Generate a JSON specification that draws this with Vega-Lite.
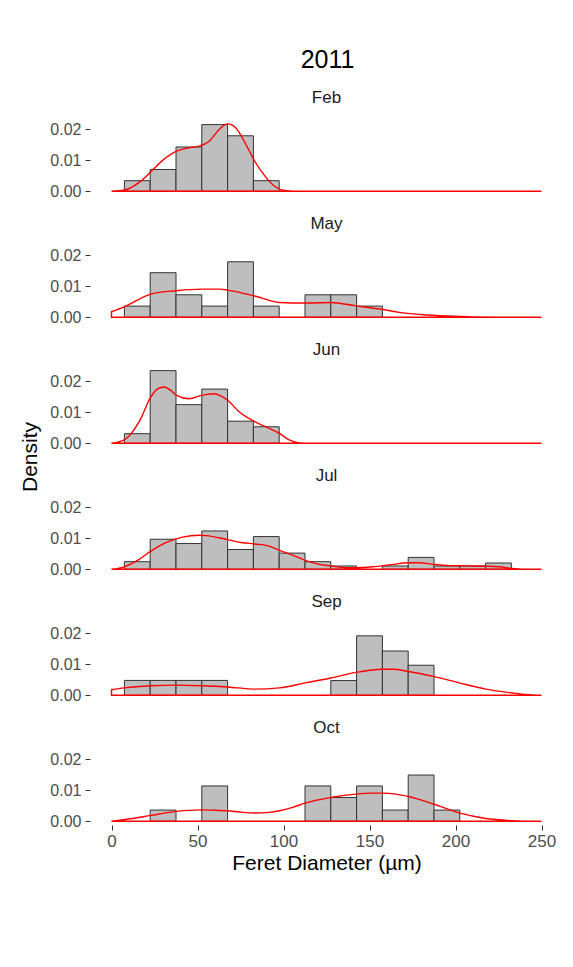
{
  "$schema": "https://vega.github.io/schema/vega-lite/v6.json",
  "padding": {"left": 19, "top": 48, "right": 5, "bottom": 5},
  "background": "white",
  "title": {"text": "2011", "fontSize": 25, "fontWeight": "normal", "anchor": "middle", "offset": 16, "dx": 36, "color": "#000000"},
  "data": {"values": [
    {"kind": "bar", "month": "Feb", "start": 7.5, "end": 22.5, "density": 0.00343},
    {"kind": "bar", "month": "Feb", "start": 22.5, "end": 37.5, "density": 0.00705},
    {"kind": "bar", "month": "Feb", "start": 37.5, "end": 52.5, "density": 0.01433},
    {"kind": "bar", "month": "Feb", "start": 52.5, "end": 67.5, "density": 0.02157},
    {"kind": "bar", "month": "Feb", "start": 67.5, "end": 82.5, "density": 0.01795},
    {"kind": "bar", "month": "Feb", "start": 82.5, "end": 97.5, "density": 0.00343},
    {"kind": "bar", "month": "May", "start": 7.5, "end": 22.5, "density": 0.00362},
    {"kind": "bar", "month": "May", "start": 22.5, "end": 37.5, "density": 0.01442},
    {"kind": "bar", "month": "May", "start": 37.5, "end": 52.5, "density": 0.00728},
    {"kind": "bar", "month": "May", "start": 52.5, "end": 67.5, "density": 0.00362},
    {"kind": "bar", "month": "May", "start": 67.5, "end": 82.5, "density": 0.01795},
    {"kind": "bar", "month": "May", "start": 82.5, "end": 97.5, "density": 0.00362},
    {"kind": "bar", "month": "May", "start": 112.5, "end": 127.5, "density": 0.00728},
    {"kind": "bar", "month": "May", "start": 127.5, "end": 142.5, "density": 0.00728},
    {"kind": "bar", "month": "May", "start": 142.5, "end": 157.5, "density": 0.00362},
    {"kind": "bar", "month": "Jun", "start": 7.5, "end": 22.5, "density": 0.00311},
    {"kind": "bar", "month": "Jun", "start": 22.5, "end": 37.5, "density": 0.0235},
    {"kind": "bar", "month": "Jun", "start": 37.5, "end": 52.5, "density": 0.0125},
    {"kind": "bar", "month": "Jun", "start": 52.5, "end": 67.5, "density": 0.01753},
    {"kind": "bar", "month": "Jun", "start": 67.5, "end": 82.5, "density": 0.00715},
    {"kind": "bar", "month": "Jun", "start": 82.5, "end": 97.5, "density": 0.00535},
    {"kind": "bar", "month": "Jul", "start": 7.5, "end": 22.5, "density": 0.00246},
    {"kind": "bar", "month": "Jul", "start": 22.5, "end": 37.5, "density": 0.00972},
    {"kind": "bar", "month": "Jul", "start": 37.5, "end": 52.5, "density": 0.00833},
    {"kind": "bar", "month": "Jul", "start": 52.5, "end": 67.5, "density": 0.0124},
    {"kind": "bar", "month": "Jul", "start": 67.5, "end": 82.5, "density": 0.00641},
    {"kind": "bar", "month": "Jul", "start": 82.5, "end": 97.5, "density": 0.01058},
    {"kind": "bar", "month": "Jul", "start": 97.5, "end": 112.5, "density": 0.00523},
    {"kind": "bar", "month": "Jul", "start": 112.5, "end": 127.5, "density": 0.00246},
    {"kind": "bar", "month": "Jul", "start": 127.5, "end": 142.5, "density": 0.00107},
    {"kind": "bar", "month": "Jul", "start": 157.5, "end": 172.5, "density": 0.00107},
    {"kind": "bar", "month": "Jul", "start": 172.5, "end": 187.5, "density": 0.00385},
    {"kind": "bar", "month": "Jul", "start": 187.5, "end": 202.5, "density": 0.00107},
    {"kind": "bar", "month": "Jul", "start": 202.5, "end": 217.5, "density": 0.00107},
    {"kind": "bar", "month": "Jul", "start": 217.5, "end": 232.5, "density": 0.00203},
    {"kind": "bar", "month": "Sep", "start": 7.5, "end": 22.5, "density": 0.00481},
    {"kind": "bar", "month": "Sep", "start": 22.5, "end": 37.5, "density": 0.00481},
    {"kind": "bar", "month": "Sep", "start": 37.5, "end": 52.5, "density": 0.00481},
    {"kind": "bar", "month": "Sep", "start": 52.5, "end": 67.5, "density": 0.00481},
    {"kind": "bar", "month": "Sep", "start": 127.5, "end": 142.5, "density": 0.00476},
    {"kind": "bar", "month": "Sep", "start": 142.5, "end": 157.5, "density": 0.01923},
    {"kind": "bar", "month": "Sep", "start": 157.5, "end": 172.5, "density": 0.01432},
    {"kind": "bar", "month": "Sep", "start": 172.5, "end": 187.5, "density": 0.00972},
    {"kind": "bar", "month": "Oct", "start": 22.5, "end": 37.5, "density": 0.00363},
    {"kind": "bar", "month": "Oct", "start": 52.5, "end": 67.5, "density": 0.01143},
    {"kind": "bar", "month": "Oct", "start": 112.5, "end": 127.5, "density": 0.01143},
    {"kind": "bar", "month": "Oct", "start": 127.5, "end": 142.5, "density": 0.00769},
    {"kind": "bar", "month": "Oct", "start": 142.5, "end": 157.5, "density": 0.01143},
    {"kind": "bar", "month": "Oct", "start": 157.5, "end": 172.5, "density": 0.00363},
    {"kind": "bar", "month": "Oct", "start": 172.5, "end": 187.5, "density": 0.01496},
    {"kind": "bar", "month": "Oct", "start": 187.5, "end": 202.5, "density": 0.00363},

    {"kind": "kde", "month": "Feb", "x": 0, "density": 0},
    {"kind": "kde", "month": "Feb", "x": 7.4, "density": 0.0004},
    {"kind": "kde", "month": "Feb", "x": 16.1, "density": 0.0029},
    {"kind": "kde", "month": "Feb", "x": 22.9, "density": 0.0063},
    {"kind": "kde", "month": "Feb", "x": 29.7, "density": 0.0100},
    {"kind": "kde", "month": "Feb", "x": 37.8, "density": 0.0130},
    {"kind": "kde", "month": "Feb", "x": 45.2, "density": 0.0141},
    {"kind": "kde", "month": "Feb", "x": 51, "density": 0.0146},
    {"kind": "kde", "month": "Feb", "x": 56.8, "density": 0.0162},
    {"kind": "kde", "month": "Feb", "x": 62.6, "density": 0.0200},
    {"kind": "kde", "month": "Feb", "x": 67.5, "density": 0.0218},
    {"kind": "kde", "month": "Feb", "x": 72.3, "density": 0.0205},
    {"kind": "kde", "month": "Feb", "x": 78.1, "density": 0.0152},
    {"kind": "kde", "month": "Feb", "x": 83.2, "density": 0.0098},
    {"kind": "kde", "month": "Feb", "x": 89.8, "density": 0.0045},
    {"kind": "kde", "month": "Feb", "x": 95.6, "density": 0.0013},
    {"kind": "kde", "month": "Feb", "x": 101.4, "density": 0.0002},
    {"kind": "kde", "month": "Feb", "x": 110, "density": 0},
    {"kind": "kde", "month": "Feb", "x": 250, "density": 0},

    {"kind": "kde", "month": "May", "x": 0, "density": 0.0018},
    {"kind": "kde", "month": "May", "x": 7.4, "density": 0.0034},
    {"kind": "kde", "month": "May", "x": 22.9, "density": 0.0075},
    {"kind": "kde", "month": "May", "x": 37.8, "density": 0.0086},
    {"kind": "kde", "month": "May", "x": 52.5, "density": 0.0091},
    {"kind": "kde", "month": "May", "x": 62.6, "density": 0.0091},
    {"kind": "kde", "month": "May", "x": 67.5, "density": 0.0088},
    {"kind": "kde", "month": "May", "x": 83.2, "density": 0.0069},
    {"kind": "kde", "month": "May", "x": 97.7, "density": 0.0048},
    {"kind": "kde", "month": "May", "x": 112.6, "density": 0.0046},
    {"kind": "kde", "month": "May", "x": 127.5, "density": 0.0048},
    {"kind": "kde", "month": "May", "x": 142.1, "density": 0.0037},
    {"kind": "kde", "month": "May", "x": 157.8, "density": 0.0025},
    {"kind": "kde", "month": "May", "x": 167.3, "density": 0.0016},
    {"kind": "kde", "month": "May", "x": 180, "density": 0.0009},
    {"kind": "kde", "month": "May", "x": 195, "density": 0.0004},
    {"kind": "kde", "month": "May", "x": 210, "density": 0.0001},
    {"kind": "kde", "month": "May", "x": 230, "density": 0},
    {"kind": "kde", "month": "May", "x": 250, "density": 0},

    {"kind": "kde", "month": "Jun", "x": 0, "density": 0},
    {"kind": "kde", "month": "Jun", "x": 7.4, "density": 0.0011},
    {"kind": "kde", "month": "Jun", "x": 16.1, "density": 0.0070},
    {"kind": "kde", "month": "Jun", "x": 22.9, "density": 0.0150},
    {"kind": "kde", "month": "Jun", "x": 26.8, "density": 0.0176},
    {"kind": "kde", "month": "Jun", "x": 30.6, "density": 0.0182},
    {"kind": "kde", "month": "Jun", "x": 34.5, "density": 0.0171},
    {"kind": "kde", "month": "Jun", "x": 37.8, "density": 0.0155},
    {"kind": "kde", "month": "Jun", "x": 45.2, "density": 0.0144},
    {"kind": "kde", "month": "Jun", "x": 52.5, "density": 0.0155},
    {"kind": "kde", "month": "Jun", "x": 59.7, "density": 0.0160},
    {"kind": "kde", "month": "Jun", "x": 64.5, "density": 0.0150},
    {"kind": "kde", "month": "Jun", "x": 67.5, "density": 0.0139},
    {"kind": "kde", "month": "Jun", "x": 74.2, "density": 0.0102},
    {"kind": "kde", "month": "Jun", "x": 83.2, "density": 0.0070},
    {"kind": "kde", "month": "Jun", "x": 89.8, "density": 0.0053},
    {"kind": "kde", "month": "Jun", "x": 97.7, "density": 0.0032},
    {"kind": "kde", "month": "Jun", "x": 103.3, "density": 0.0011},
    {"kind": "kde", "month": "Jun", "x": 109.1, "density": 0.0001},
    {"kind": "kde", "month": "Jun", "x": 115, "density": 0},
    {"kind": "kde", "month": "Jun", "x": 250, "density": 0},

    {"kind": "kde", "month": "Jul", "x": 0, "density": 0},
    {"kind": "kde", "month": "Jul", "x": 7.4, "density": 0.0008},
    {"kind": "kde", "month": "Jul", "x": 16.1, "density": 0.0032},
    {"kind": "kde", "month": "Jul", "x": 22.9, "density": 0.0059},
    {"kind": "kde", "month": "Jul", "x": 31.6, "density": 0.0086},
    {"kind": "kde", "month": "Jul", "x": 41.3, "density": 0.0104},
    {"kind": "kde", "month": "Jul", "x": 51, "density": 0.0110},
    {"kind": "kde", "month": "Jul", "x": 54.9, "density": 0.0109},
    {"kind": "kde", "month": "Jul", "x": 67.5, "density": 0.0096},
    {"kind": "kde", "month": "Jul", "x": 76.2, "density": 0.0086},
    {"kind": "kde", "month": "Jul", "x": 83.2, "density": 0.0082},
    {"kind": "kde", "month": "Jul", "x": 91.7, "density": 0.0075},
    {"kind": "kde", "month": "Jul", "x": 97.7, "density": 0.0061},
    {"kind": "kde", "month": "Jul", "x": 105.3, "density": 0.0046},
    {"kind": "kde", "month": "Jul", "x": 112.6, "density": 0.0029},
    {"kind": "kde", "month": "Jul", "x": 120.8, "density": 0.0016},
    {"kind": "kde", "month": "Jul", "x": 127.5, "density": 0.0011},
    {"kind": "kde", "month": "Jul", "x": 136.3, "density": 0.0005},
    {"kind": "kde", "month": "Jul", "x": 142.1, "density": 0.0005},
    {"kind": "kde", "month": "Jul", "x": 151.8, "density": 0.0008},
    {"kind": "kde", "month": "Jul", "x": 161.5, "density": 0.0014},
    {"kind": "kde", "month": "Jul", "x": 172.7, "density": 0.0021},
    {"kind": "kde", "month": "Jul", "x": 178.9, "density": 0.0021},
    {"kind": "kde", "month": "Jul", "x": 187.2, "density": 0.0016},
    {"kind": "kde", "month": "Jul", "x": 196.3, "density": 0.0012},
    {"kind": "kde", "month": "Jul", "x": 206, "density": 0.0011},
    {"kind": "kde", "month": "Jul", "x": 217.6, "density": 0.0010},
    {"kind": "kde", "month": "Jul", "x": 225.4, "density": 0.0008},
    {"kind": "kde", "month": "Jul", "x": 232.6, "density": 0.0003},
    {"kind": "kde", "month": "Jul", "x": 244.8, "density": 0},
    {"kind": "kde", "month": "Jul", "x": 250, "density": 0},

    {"kind": "kde", "month": "Sep", "x": 0, "density": 0.0018},
    {"kind": "kde", "month": "Sep", "x": 7.4, "density": 0.0024},
    {"kind": "kde", "month": "Sep", "x": 22.9, "density": 0.0031},
    {"kind": "kde", "month": "Sep", "x": 37.8, "density": 0.0033},
    {"kind": "kde", "month": "Sep", "x": 52.5, "density": 0.0031},
    {"kind": "kde", "month": "Sep", "x": 67.5, "density": 0.0027},
    {"kind": "kde", "month": "Sep", "x": 83.2, "density": 0.0020},
    {"kind": "kde", "month": "Sep", "x": 97.7, "density": 0.0024},
    {"kind": "kde", "month": "Sep", "x": 112.6, "density": 0.0040},
    {"kind": "kde", "month": "Sep", "x": 127.5, "density": 0.0056},
    {"kind": "kde", "month": "Sep", "x": 142.1, "density": 0.0074},
    {"kind": "kde", "month": "Sep", "x": 157.8, "density": 0.0084},
    {"kind": "kde", "month": "Sep", "x": 163.4, "density": 0.0084},
    {"kind": "kde", "month": "Sep", "x": 172.7, "density": 0.0077},
    {"kind": "kde", "month": "Sep", "x": 187.2, "density": 0.0061},
    {"kind": "kde", "month": "Sep", "x": 202.2, "density": 0.0040},
    {"kind": "kde", "month": "Sep", "x": 217.6, "density": 0.0020},
    {"kind": "kde", "month": "Sep", "x": 232.6, "density": 0.0008},
    {"kind": "kde", "month": "Sep", "x": 244.8, "density": 0.0001},
    {"kind": "kde", "month": "Sep", "x": 250, "density": 0},

    {"kind": "kde", "month": "Oct", "x": 0, "density": 0},
    {"kind": "kde", "month": "Oct", "x": 12.2, "density": 0.0009},
    {"kind": "kde", "month": "Oct", "x": 22.9, "density": 0.0019},
    {"kind": "kde", "month": "Oct", "x": 37.8, "density": 0.0032},
    {"kind": "kde", "month": "Oct", "x": 52.5, "density": 0.0037},
    {"kind": "kde", "month": "Oct", "x": 59.7, "density": 0.0036},
    {"kind": "kde", "month": "Oct", "x": 67.5, "density": 0.0034},
    {"kind": "kde", "month": "Oct", "x": 76.2, "density": 0.0029},
    {"kind": "kde", "month": "Oct", "x": 83.2, "density": 0.0027},
    {"kind": "kde", "month": "Oct", "x": 91.7, "density": 0.0029},
    {"kind": "kde", "month": "Oct", "x": 97.7, "density": 0.0034},
    {"kind": "kde", "month": "Oct", "x": 105.3, "density": 0.0045},
    {"kind": "kde", "month": "Oct", "x": 112.6, "density": 0.0059},
    {"kind": "kde", "month": "Oct", "x": 127.5, "density": 0.0077},
    {"kind": "kde", "month": "Oct", "x": 142.1, "density": 0.0088},
    {"kind": "kde", "month": "Oct", "x": 151.8, "density": 0.0091},
    {"kind": "kde", "month": "Oct", "x": 157.8, "density": 0.0091},
    {"kind": "kde", "month": "Oct", "x": 165.3, "density": 0.0088},
    {"kind": "kde", "month": "Oct", "x": 172.7, "density": 0.0080},
    {"kind": "kde", "month": "Oct", "x": 187.2, "density": 0.0056},
    {"kind": "kde", "month": "Oct", "x": 202.2, "density": 0.0027},
    {"kind": "kde", "month": "Oct", "x": 217.6, "density": 0.0009},
    {"kind": "kde", "month": "Oct", "x": 232.6, "density": 0.0002},
    {"kind": "kde", "month": "Oct", "x": 244.8, "density": 0},
    {"kind": "kde", "month": "Oct", "x": 250, "density": 0}
  ]},
  "facet": {
    "row": {
      "field": "month", "type": "nominal",
      "sort": ["Feb", "May", "Jun", "Jul", "Sep", "Oct"],
      "header": {
        "title": "Density", "titleFontSize": 21, "titleFontWeight": "normal", "titleColor": "#000000", "titlePadding": -2,
        "labelOrient": "top", "labelAngle": 0, "labelFontSize": 17, "labelColor": "#1a1a1a", "labelPadding": -10, "labelAnchor": "middle"
      }
    }
  },
  "spacing": {"row": 20},
  "spec": {
    "width": 473,
    "height": 81,
    "layer": [
      {
        "transform": [{"filter": "datum.kind === 'bar'"}],
        "mark": {"type": "rect", "fill": "#bebebe", "stroke": "#333333", "strokeWidth": 1},
        "encoding": {
          "x": {"field": "start", "type": "quantitative",
                "scale": {"domain": [-12.5, 262.5], "nice": false, "zero": false},
                "axis": {"values": [0, 50, 100, 150, 200, 250], "labelPadding": 3, "titlePadding": 3, "labelFlush": false},
                "title": "Feret Diameter (µm)"},
          "x2": {"field": "end"},
          "y": {"field": "density", "type": "quantitative",
                "scale": {"domain": [-0.0012, 0.025], "nice": false, "zero": false},
                "axis": {"values": [0, 0.01, 0.02], "format": ".2f", "labelPadding": 4, "labelFontSize": 16, "title": null}},
          "y2": {"datum": 0}
        }
      },
      {
        "transform": [{"filter": "datum.kind === 'kde'"}],
        "mark": {"type": "area", "interpolate": "monotone", "fillOpacity": 0, "stroke": "#ff0000", "strokeWidth": 1.4},
        "encoding": {
          "x": {"field": "x", "type": "quantitative"},
          "y": {"field": "density", "type": "quantitative"},
          "y2": {"datum": 0}
        }
      }
    ]
  },
  "config": {
    "font": "Liberation Sans",
    "view": {"stroke": null},
    "axis": {
      "domain": false, "grid": false,
      "labelColor": "#4d4d4d", "labelFontSize": 17,
      "tickColor": "#333333", "tickSize": 5, "tickWidth": 1,
      "titleFontSize": 21, "titleFontWeight": "normal", "titleColor": "#000000"
    }
  }
}
